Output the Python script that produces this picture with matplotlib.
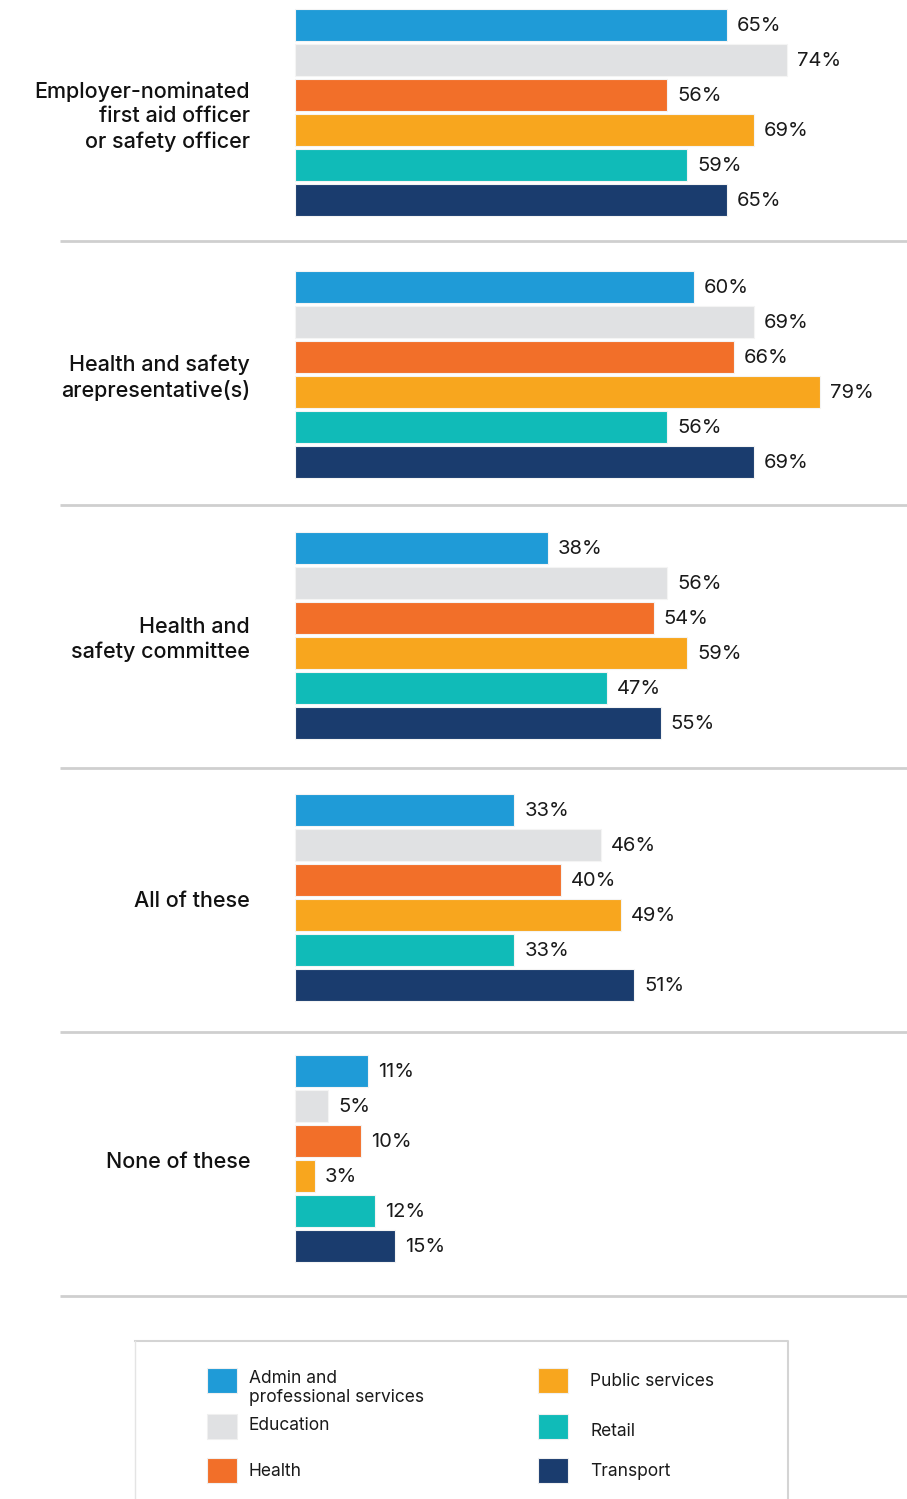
import matplotlib.pyplot as plt
from matplotlib.patches import Rectangle

plt.rcParams['font.family'] = ['Inter', 'DejaVu Sans']

# Data
questions = [
    "Employer-nominated\nfirst aid officer\nor safety officer",
    "Health and safety\narepresentative(s)",
    "Health and\nsafety committee",
    "All of these",
    "None of these",
]
sectors = ["Admin and\nprofessional services", "Education", "Health",
           "Public services", "Retail", "Transport"]
admin = [65, 60, 38, 33, 11]
education = [74, 69, 56, 46, 5]
health = [56, 66, 54, 40, 10]
public = [69, 79, 59, 49, 3]
retail = [59, 56, 47, 33, 12]
transport = [65, 69, 55, 51, 15]

colors = ["#1f9bd7", "#e0e1e3", "#f26f29", "#f8a61e", "#10bbb8", "#1a3c6e"]
series = [admin, education, health, public, retail, transport]

W, H = 907, 1499
fig = plt.figure(figsize=(W / 100, H / 100), dpi=100)

# main axes: x in percent, y in pixel rows
px_per_pct = 6.646
x0 = 295
ax = fig.add_axes([0, 0, 1, 1])
ax.set_xlim(-x0 / px_per_pct, (W - x0) / px_per_pct)
ax.set_ylim(H, 0)
ax.axis("off")

group_step = 261.5
bar_step = 35
bar_h = 32
first = 25

for g, q in enumerate(questions):
    for i, vals in enumerate(series):
        y = first + g * group_step + i * bar_step
        v = vals[g]
        ax.barh(y, v, height=bar_h, color=colors[i], edgecolor="#f4f4f4", linewidth=0.8)
        ax.text(v + 1.5, y + 1, f"{v}%", va="center", ha="left", fontsize=14.5, color="#1a1a1a")
    gc = first + g * group_step + 2.5 * bar_step + 4
    ax.text(-45 / px_per_pct, gc, q, ha="right", va="center", fontsize=15.5,
            fontweight="medium", color="#111111", linespacing=1.3)
    sep = 241 + g * 263.7
    ax.plot([-(x0 - 60) / px_per_pct, (W - x0) / px_per_pct], [sep, sep],
            color="#cfcfcf", linewidth=2, solid_capstyle="butt")

# legend panel in pixel coordinates
lg = fig.add_axes([0, 0, 1, 1])
lg.set_xlim(0, W)
lg.set_ylim(H, 0)
lg.axis("off")
lg.patch.set_alpha(0)
lg.plot([135, 788, 788], [1341, 1341, H], color="#d4d4d4", linewidth=1.5)
lg.plot([135, 135], [1341, H], color="#e4e4e4", linewidth=1)

sq_pos = [(207, 1368), (207, 1414), (207, 1458), (538, 1368), (538, 1414), (538, 1458)]
txt_pos = [(249, 1388), (249, 1425), (249, 1472), (590, 1382), (590, 1431), (590, 1472)]
for (sx, sy), (tx, ty), c, name in zip(sq_pos, txt_pos, colors, sectors):
    lg.add_patch(Rectangle((sx, sy), 30, 25, facecolor=c, edgecolor="#f0f0f0", linewidth=0.8))
    lg.text(tx, ty, name, ha="left", va="center", fontsize=12.5, color="#1a1a1a",
            linespacing=1.2)

fig.savefig("out.png", dpi=100, facecolor="white")
